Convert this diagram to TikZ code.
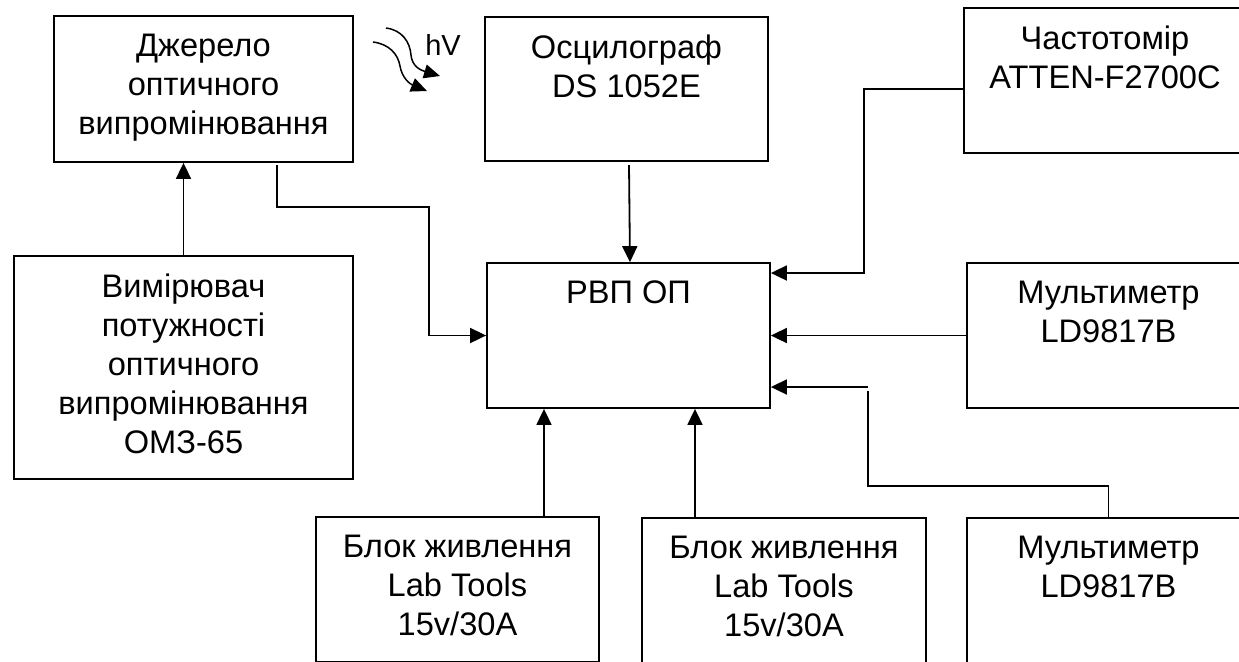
\documentclass[tikz,border=0pt]{standalone}
\usepackage{fontspec}
\setmainfont{Liberation Sans}
\usetikzlibrary{arrows.meta,positioning}

\begin{document}
\begin{tikzpicture}[x=0.5pt, y=-0.5pt, line width=0.9pt, >={Triangle[length=8pt,width=7.5pt]}]
\tikzstyle{block} = [rectangle, draw = black, inner sep=0pt]
\tikzstyle{caption} = [align=center, inner sep=0pt, outer sep=0pt, font=\fontsize{16.3}{19.5}\selectfont]
\useasboundingbox (0,0) rectangle (1239,661);
\clip (0,0) rectangle (1239,661);

% boxes
\node (src) [block, minimum width=149.5pt, minimum height=73pt] at (203.5,89) {};
\node (osc) [block, minimum width=141.5pt, minimum height=72pt] at (626.5,89) {};
\node (freq) [block, minimum width=141pt, minimum height=72.5pt] at (1105,80.5) {};
\node (meter) [block, minimum width=169.5pt, minimum height=111.5pt] at (183.5,367.5) {};
\node (rvp) [block, minimum width=141.5pt, minimum height=72.5pt] at (628.5,335.5) {};
\node (mult1) [block, minimum width=141.5pt, minimum height=72.5pt] at (1108.5,335.5) {};
\node (psu1) [block, minimum width=141.5pt, minimum height=72.5pt] at (457.5,589.5) {};
\node (psu2) [block, minimum width=142pt, minimum height=72.5pt] at (784,590.5) {};
\node (mult2) [block, minimum width=141.5pt, minimum height=72.5pt] at (1108.5,590.5) {};

% texts
\node (srctext) [caption, below=9.5pt of src.north] {Джерело\\оптичного\\випромінювання};
\node (osctext) [caption, below=9.5pt of osc.north] {Осцилограф\\DS 1052E};
\node (freqtext) [caption, below=9.5pt of freq.north] {Частотомір\\ATTEN-F2700C};
\node (metertext) [caption, below=9.5pt of meter.north] {Вимірювач\\потужності\\оптичного\\випромінювання\\ОМЗ-65};
\node (rvptext) [caption, below=9.5pt of rvp.north] {РВП ОП};
\node (mult1text) [caption, below=9.5pt of mult1.north] {Мультиметр\\LD9817B};
\node (psu1text) [caption, below=9.5pt of psu1.north] {Блок живлення\\Lab Tools\\15v/30A};
\node (psu2text) [caption, below=9.5pt of psu2.north] {Блок живлення\\Lab Tools\\15v/30A};
\node (mult2text) [caption, below=9.5pt of mult2.north] {Мультиметр\\LD9817B};

% light
\node (hv) [caption, font=\fontsize{14.5}{17}\selectfont] at (443,45) {hV};
\draw[line width=0.75pt, -{Triangle[length=8pt,width=7pt]}] (386,28) .. controls (402,30) and (410,42) .. (411,55) .. controls (412,66) and (420,70) .. (440,76);
\draw[line width=0.75pt, -{Triangle[length=8pt,width=7pt]}] (373,42) .. controls (389,44) and (398,54) .. (400,66) .. controls (402,78) and (410,84) .. (427,91);

% links
\coordinate (srcout) at (277,165);
\coordinate (oscout) at (629,165);
\coordinate (mult2in) at (868,387);
\draw [->] (meter.north) -- (src.south -| meter.north);
\draw [->] (srcout) |- (429,207) |- (rvp.west);
\draw [->] (oscout) -- (rvp.north -| 630,0);
\draw [->] ([yshift=-4.25pt]freq.west) -| (864,273) -- (rvp.east |- 0,273);
\draw [->] (mult1.west) -- (rvp.east);
\draw (mult2.north) |- (868,486) -- (868,391);
\draw [->] (mult2in) -- (rvp.east |- mult2in);
\draw [->] (psu1.north -| 544,0) -- (rvp.south -| 544,0);
\draw [->] (psu2.north -| 695,0) -- (rvp.south -| 695,0);
\end{tikzpicture}
\end{document}
